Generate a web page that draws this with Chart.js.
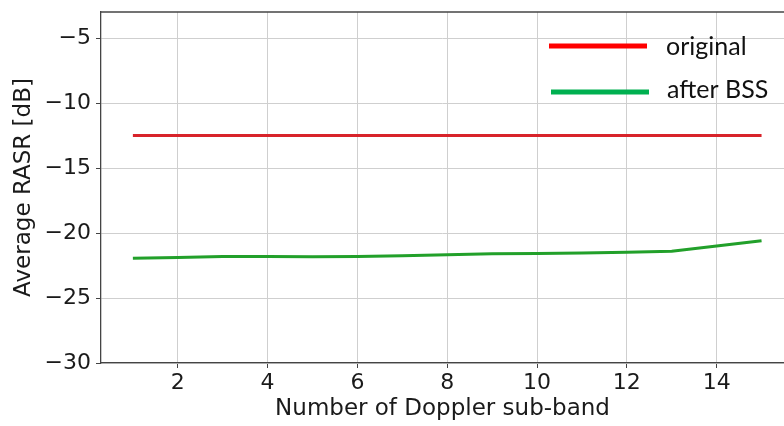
<!DOCTYPE html>
<html>
<head>
<meta charset="utf-8">
<script src="https://cdn.jsdelivr.net/npm/chart.js@4.4.1/dist/chart.umd.min.js"></script>
<style>
  html, body { margin: 0; padding: 0; background: #fff; }
  #wrap { width: 784px; height: 426px; }
</style>
</head>
<body>
<div id="wrap"><canvas id="chart" width="784" height="426"></canvas></div>
<script>
// sub-band index on the x axis
const subBands = [1, 2, 3, 4, 5, 6, 7, 8, 9, 10, 11, 12, 13, 14, 15];
// RASR values (dB)
const originalRASR = [-12.5, -12.5, -12.5, -12.5, -12.5, -12.5, -12.5, -12.5, -12.5, -12.5, -12.5, -12.5, -12.5, -12.5, -12.5];
const afterBssRASR = [-21.95, -21.88, -21.8, -21.8, -21.83, -21.8, -21.75, -21.67, -21.6, -21.57, -21.53, -21.48, -21.4, -21.0, -20.6];
const seriesNames = ["original", "after BSS"];
const xTicks = [2, 4, 6, 8, 10, 12, 14];
const yTicks = [-30, -25, -20, -15, -10, -5];

const toPoints = (ys) => subBands.map((x, i) => ({ x: x, y: ys[i] }));

const tickFont = { family: "DejaVu Sans", size: 22 };
const titleFont = { family: "DejaVu Sans", size: 23 };
const spineColor = "#444444";
const gridColor = "#cfcfcf";
const textColor = "#1a1a1a";

//top spine + hand placed legend like the original figure
const extras = {
  id: "extras",
  afterDraw(chart) {
    const ctx = chart.ctx;
    const area = chart.chartArea;
    ctx.save();
    ctx.strokeStyle = spineColor;
    ctx.lineWidth = 1.3;
    ctx.beginPath();
    ctx.moveTo(area.left, area.top);
    ctx.lineTo(area.right, area.top);
    ctx.stroke();

    const legend = [
      { color: "#ff0000", x0: 549, x1: 647, y: 46, tx: 666, ty: 55 },
      { color: "#00b050", x0: 551, x1: 649, y: 92, tx: 667, ty: 98 },
    ];
    ctx.font = "25px Lato";
    ctx.fillStyle = "#111111";
    ctx.textBaseline = "alphabetic";
    legend.forEach((l, i) => {
      ctx.strokeStyle = l.color;
      ctx.lineWidth = 5;
      ctx.beginPath();
      ctx.moveTo(l.x0, l.y);
      ctx.lineTo(l.x1, l.y);
      ctx.stroke();
      ctx.fillText(seriesNames[i], l.tx, l.ty);
    });
    ctx.restore();
  },
};

new Chart(document.getElementById("chart"), {
  type: "line",
  plugins: [extras],
  data: {
    datasets: [
      {
        label: seriesNames[0],
        data: toPoints(originalRASR),
        borderColor: "#d8232a",
        borderWidth: 3,
        pointRadius: 0,
        tension: 0,
      },
      {
        label: seriesNames[1],
        data: toPoints(afterBssRASR),
        borderColor: "#22a02a",
        borderWidth: 3,
        pointRadius: 0,
        tension: 0,
      },
    ],
  },
  options: {
    responsive: false,
    animation: false,
    layout: { padding: { top: 12, right: 0, left: 0, bottom: 0 } },
    plugins: { legend: { display: false }, tooltip: { enabled: false } },
    scales: {
      x: {
        type: "linear",
        min: 0.29,
        max: 15.5,
        afterFit: (s) => { s.height = 63; s.paddingLeft = 0; s.paddingRight = 0; },
        afterBuildTicks: (s) => { s.ticks = xTicks.map((v) => ({ value: v })); },
        ticks: { font: tickFont, color: textColor, padding: 2, maxRotation: 0 },
        grid: { color: gridColor, lineWidth: 1, tickLength: 5, tickColor: spineColor },
        border: { color: spineColor, width: 1.3 },
        title: {
          display: true,
          text: "Number of Doppler sub-band",
          font: titleFont,
          color: textColor,
          padding: { top: 0, bottom: 3.5 },
        },
      },
      y: {
        min: -30,
        max: -3,
        afterFit: (s) => { s.width = 101; s.paddingTop = 0; s.paddingBottom = 0; },
        afterBuildTicks: (s) => { s.ticks = yTicks.map((v) => ({ value: v })); },
        ticks: {
          font: tickFont,
          color: textColor,
          padding: 5,
          callback: (v) => String(v).replace("-", "\u2212"),
        },
        grid: { color: gridColor, lineWidth: 1, tickLength: 5, tickColor: spineColor },
        border: { color: spineColor, width: 1.3 },
        title: {
          display: true,
          text: "Average RASR [dB]",
          font: titleFont,
          color: textColor,
          padding: { top: 10, bottom: 0 },
        },
      },
    },
  },
});
</script>
</body>
</html>
